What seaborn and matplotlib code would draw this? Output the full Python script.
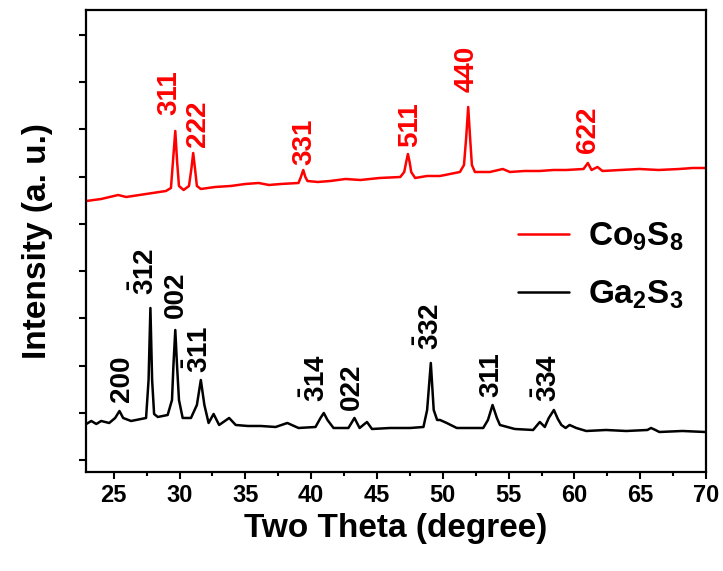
import numpy as np
import pandas as pd
import matplotlib
matplotlib.use('Agg')
import matplotlib.pyplot as plt
import seaborn as sns

# ── DATA ────────────────────────────────────────────────────
# Co9S8 pattern: two-theta (deg) and intensity (a.u.)
co_theta = [22.92, 24.05, 25.34, 25.95, 27.46, 28.97, 29.35, 29.50, 29.68, 29.82, 29.96,
            30.31, 30.72, 30.90, 31.04, 31.18, 31.32, 31.62, 32.70, 33.89, 35.00, 36.01,
            36.80, 37.68, 39.04, 39.22, 39.40, 39.56, 39.72, 40.50, 41.46, 42.60, 43.74,
            45.20, 46.77, 47.07, 47.22, 47.35, 47.48, 47.60, 47.90, 48.80, 49.79, 51.30,
            51.61, 51.78, 51.93, 52.07, 52.21, 52.44, 53.58, 54.56, 55.09, 56.20, 57.36,
            58.40, 59.38, 60.69, 61.02, 61.30, 61.75, 62.13, 63.50, 64.93, 66.40, 67.96,
            69.00, 69.93]
co_int = [271, 273, 277, 275, 278, 281, 284, 310, 341, 310, 286,
          282, 286, 303, 319, 303, 286, 283, 285, 286, 288, 289,
          287, 288, 289, 295, 302, 295, 291, 290, 291, 293, 292,
          294, 295, 300, 310, 318, 310, 300, 294, 296, 296, 300,
          307, 335, 365, 335, 307, 300, 300, 303, 300, 301, 301,
          302, 302, 303, 309, 302, 305, 301, 302, 303, 302, 303,
          304, 304]

# Ga2S3 pattern
ga_theta = [22.92, 23.30, 23.68, 24.05, 24.66, 25.11, 25.44, 25.72, 26.32, 27.08, 27.46,
            27.65, 27.79, 27.92, 28.07, 28.35, 29.10, 29.43, 29.54, 29.68, 29.81, 29.96,
            30.24, 30.87, 31.32, 31.62, 31.89, 32.21, 32.59, 33.01, 33.77, 34.27, 35.20,
            36.17, 37.30, 38.19, 39.04, 40.33, 40.71, 40.96, 41.24, 41.70, 42.83, 43.29,
            43.68, 44.24, 44.62, 46.00, 47.52, 48.53, 48.81, 49.09, 49.31, 49.57, 49.79,
            50.30, 51.06, 52.06, 53.07, 53.43, 53.78, 54.11, 54.34, 55.47, 56.86, 57.37,
            57.75, 58.05, 58.44, 58.74, 59.01, 59.33, 59.63, 60.14, 60.90, 62.40, 63.93,
            65.54, 65.82, 66.15, 66.45, 68.20, 69.93]
ga_int = [48, 51, 48, 51, 49, 54, 61, 54, 51, 53, 54,
          92, 164, 92, 58, 55, 57, 72, 107, 142, 107, 72,
          54, 54, 67, 92, 67, 49, 58, 47, 54, 47, 46,
          46, 45, 49, 44, 45, 54, 59, 52, 44, 44, 54,
          44, 50, 43, 44, 44, 45, 62, 109, 62, 52, 52,
          49, 44, 44, 44, 52, 67, 54, 47, 43, 42, 50,
          45, 54, 62, 53, 47, 44, 47, 44, 41, 42, 41,
          42, 44, 42, 40, 41, 40]

# peak indices: label, position, label baseline
co_labels = ['311', '222', '331', '511', '440', '622']
co_lab_x = [29.2, 31.4, 39.5, 47.5, 51.8, 61.0]
co_lab_y = [357, 325, 307, 325, 380, 319]

ga_labels = ['200', r'$\mathbf{\bar{3}12}$', '002', r'$\mathbf{\bar{3}11}$',
             r'$\mathbf{\bar{3}14}$', '022', r'$\mathbf{\bar{3}32}$', '311',
             r'$\mathbf{\bar{3}34}$']
ga_lab_x = [25.6, 27.4, 29.7, 31.5, 40.4, 43.1, 49.1, 53.7, 58.0]
ga_lab_y = [70, 177, 154, 99, 70, 62, 122, 75, 70]

# ── STYLE ───────────────────────────────────────────────────
sns.set_style('ticks')
plt.rcParams['font.family'] = ['Liberation Sans', 'DejaVu Sans']
plt.rcParams['mathtext.fontset'] = 'custom'
plt.rcParams['mathtext.rm'] = 'Liberation Sans'
plt.rcParams['mathtext.bf'] = 'Liberation Sans:bold'
plt.rcParams['mathtext.it'] = 'Liberation Sans:italic'
for key in ['text.color', 'axes.labelcolor', 'xtick.color', 'ytick.color', 'axes.edgecolor']:
    plt.rcParams[key] = 'black'

df = pd.concat([
    pd.DataFrame({'theta': co_theta, 'intensity': co_int, 'sample': r'$\mathbf{Co_9S_8}$'}),
    pd.DataFrame({'theta': ga_theta, 'intensity': ga_int, 'sample': r'$\mathbf{Ga_2S_3}$'}),
])

fig = plt.figure(figsize=(7.23, 5.71), dpi=100)
ax = fig.add_axes([0.119, 0.1734, 0.8576, 0.8091])

sns.lineplot(data=df, x='theta', y='intensity', hue='sample', sort=False,
             palette=['#ff0000', '#000000'], linewidth=1.8, ax=ax)

for lab, x, y in zip(co_labels, co_lab_x, co_lab_y):
    ax.text(x, y, lab, color='#ff0000', fontsize=20, fontweight='bold', rotation=90,
            ha='center', va='bottom')
for lab, x, y in zip(ga_labels, ga_lab_x, ga_lab_y):
    ax.text(x, y, lab, color='black', fontsize=20, fontweight='bold', rotation=90,
            ha='center', va='bottom')

ax.set_xlim(22.9, 70)
ax.set_ylim(0, 462)
ax.set_xticks(np.arange(25, 71, 5))
ax.set_xticks(np.arange(27.5, 70, 5), minor=True)
ax.set_yticks(np.linspace(12, 437, 10))
ax.set_yticklabels([])

for side in ['top', 'right', 'bottom', 'left']:
    ax.spines[side].set_linewidth(1.6)
    ax.spines[side].set_color('black')
ax.tick_params(axis='both', which='major', direction='out', length=5, width=1.5,
               labelsize=17, pad=4, color='black', labelcolor='black')
ax.tick_params(axis='x', which='minor', direction='out', length=3, width=1.5, color='black')
for t in ax.get_xticklabels():
    t.set_fontweight('bold')

ax.set_xlabel('Two Theta (degree)', fontsize=24, fontweight='bold', labelpad=4, color='black')
ax.set_ylabel('Intensity (a. u.)', fontsize=24, fontweight='bold', labelpad=15, color='black')

ax.legend(loc='center left', bbox_to_anchor=(0.696, 0.446), frameon=False,
          fontsize=24, handlelength=1.55, handletextpad=0.55, labelspacing=0.75,
          borderpad=0, borderaxespad=0)

plt.savefig('out.png', dpi=100)
